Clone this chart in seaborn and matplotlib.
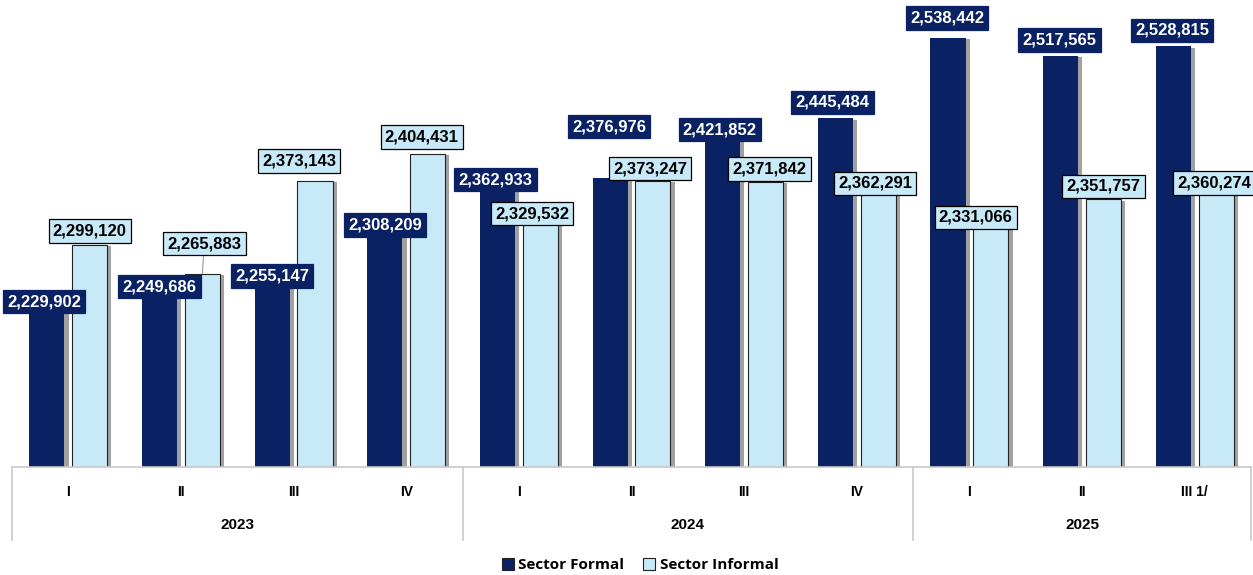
import pandas as pd
import numpy as np
import matplotlib.pyplot as plt
import matplotlib.patheffects as pe
from matplotlib.patches import Patch
import seaborn as sns

# Data
years = ['2023'] * 4 + ['2024'] * 4 + ['2025'] * 3
quarters = ['I', 'II', 'III', 'IV', 'I', 'II', 'III', 'IV', 'I', 'II', 'III 1/']
formal = [2229902, 2249686, 2255147, 2308209, 2362933, 2376976,
          2421852, 2445484, 2538442, 2517565, 2528815]
informal = [2299120, 2265883, 2373143, 2404431, 2329532, 2373247,
            2371842, 2362291, 2331066, 2351757, 2360274]

# label nudges in pixels (dx, dy), to mimic the hand-placed boxes
formal_nudge = [(-3, 3), (0, 1), (0, 7), (0, 12), (-2, 10), (-1, 51),
                (-3, 9), (-3, 16), (-1, 20), (-1, 16), (-1, 16)]
informal_nudge = [(0, 14), (2, 30), (-16, 20), (-6, 17), (-8, 5), (-3, 12),
                  (4, 13), (-3, 7), (-15, 0), (0, 13), (-2, 9)]

navy = '#0a2263'
light = '#c8e9f7'

periods = [f'{y}-{q}' for y, q in zip(years, quarters)]
df = pd.DataFrame({
    'Periodo': periods * 2,
    'Sector': ['Sector Formal'] * len(formal) + ['Sector Informal'] * len(informal),
    'Valor': formal + informal,
})

fig = plt.figure(figsize=(12.53, 5.75), dpi=100)
ax = fig.add_axes([12 / 1253, 108 / 575, 1239 / 1253, 467 / 575])

sns.barplot(data=df, x='Periodo', y='Valor', hue='Sector',
            palette=[navy, light], width=0.76, gap=0.18,
            legend=False, ax=ax, saturation=1)

shadow = [pe.SimplePatchShadow(offset=(3, -1), shadow_rgbFace='#444444', alpha=0.5),
          pe.Normal()]
for i, cont in enumerate(ax.containers):
    for bar in cont:
        bar.set_path_effects(shadow)
        if i == 1:
            bar.set_edgecolor('#222222')
            bar.set_linewidth(0.8)

ax.set_xlim(-0.5, 10.5)
ax.set_ylim(2042000, 2582500)
ax.set_yticks([])
ax.set_ylabel('')
ax.set_xlabel('')
for s in ['top', 'right', 'left']:
    ax.spines[s].set_visible(False)
ax.spines['bottom'].set_color('#c8c8c8')
ax.spines['bottom'].set_linewidth(1.2)

# value labels
for cont, vals, nudges, fc, tc in [(ax.containers[0], formal, formal_nudge, navy, 'white'),
                                   (ax.containers[1], informal, informal_nudge, light, 'black')]:
    for bar, v, (dx, dy) in zip(cont, vals, nudges):
        xc = bar.get_x() + bar.get_width() / 2
        kw = {}
        if v == 2265883:
            kw['arrowprops'] = dict(arrowstyle='-', color='#999999', lw=0.8, shrinkA=0, shrinkB=0)
        ax.annotate(f'{v:,}', xy=(xc, v), xytext=(dx, dy), textcoords='offset pixels',
                    ha='center', va='center', fontsize=12, fontweight='bold',
                    color=tc, family='Liberation Sans', annotation_clip=False,
                    bbox=dict(boxstyle='square,pad=0.25', fc=fc,
                              ec='black' if tc == 'black' else fc, lw=0.9),
                    zorder=5, **kw)

# quarter ticks
ax.set_xticks(range(len(quarters)))
ax.set_xticklabels(quarters, fontsize=10, fontweight='bold', family='Liberation Sans')
ax.tick_params(axis='x', length=0, pad=13)

# year labels and separators
trans = ax.get_xaxis_transform()
for sep in [-0.5, 3.5, 7.5, 10.5]:
    ax.plot([sep, sep], [0, -73 / 467], transform=trans, color='#c8c8c8', lw=1.2, clip_on=False)
for yr in ['2023', '2024', '2025']:
    idx = [i for i, y in enumerate(years) if y == yr]
    ax.text(np.mean(idx), -58 / 467, yr, transform=trans, ha='center', va='center',
            fontsize=11, fontweight='bold', family='Liberation Sans')

handles = [Patch(fc=navy, ec='#222222', lw=0.8, label='Sector Formal'),
           Patch(fc=light, ec='#222222', lw=0.8, label='Sector Informal')]
fig.legend(handles=handles, loc='center', bbox_to_anchor=(640 / 1253, 10 / 575),
           ncol=2, frameon=False, handlelength=0.8, handleheight=0.8,
           handletextpad=0.3, columnspacing=1.2,
           prop={'family': 'Open Sans', 'weight': 'bold', 'size': 11})

fig.savefig('out.png', dpi=100)
